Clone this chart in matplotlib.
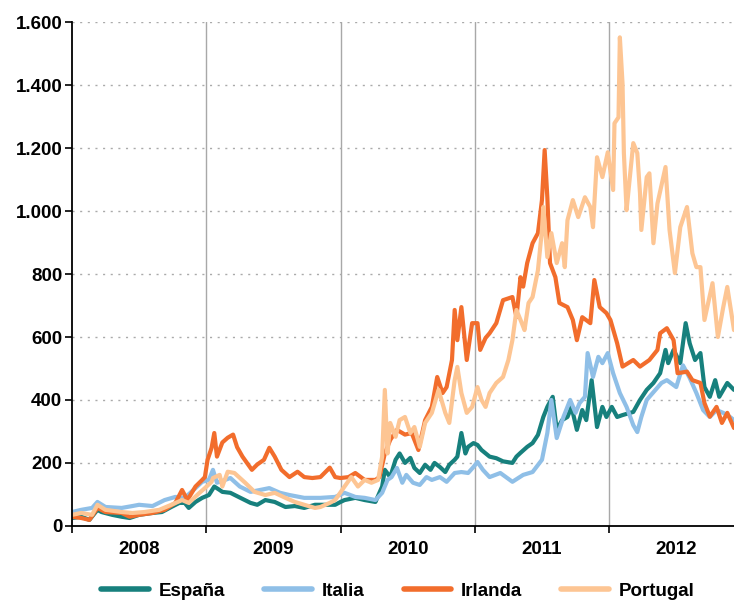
import matplotlib.pyplot as plt
from matplotlib.ticker import FuncFormatter, FixedLocator

plt.rcParams['font.family'] = ['Liberation Sans', 'DejaVu Sans']
plt.rcParams['font.weight'] = 'bold'

# Series: (decimal year, basis points)
espana_t = [2008.00, 2008.07, 2008.13, 2008.19, 2008.22, 2008.30, 2008.37, 2008.43, 2008.50, 2008.60,
            2008.67, 2008.74, 2008.80, 2008.84, 2008.87, 2008.92, 2008.97, 2009.02, 2009.06, 2009.10,
            2009.12, 2009.18, 2009.25, 2009.33, 2009.38, 2009.44, 2009.51, 2009.59, 2009.66, 2009.73,
            2009.81, 2009.88, 2009.96, 2010.00, 2010.03, 2010.11, 2010.18, 2010.26, 2010.31, 2010.33,
            2010.37, 2010.41, 2010.44, 2010.48, 2010.52, 2010.55, 2010.59, 2010.63, 2010.67, 2010.70,
            2010.74, 2010.78, 2010.81, 2010.85, 2010.87, 2010.90, 2010.93, 2010.95, 2010.99, 2011.02,
            2011.05, 2011.11, 2011.16, 2011.21, 2011.28, 2011.31, 2011.34, 2011.39, 2011.43, 2011.47,
            2011.51, 2011.54, 2011.58, 2011.61, 2011.65, 2011.69, 2011.72, 2011.76, 2011.80, 2011.83,
            2011.87, 2011.91, 2011.95, 2011.98, 2012.02, 2012.06, 2012.10, 2012.18, 2012.23, 2012.28,
            2012.33, 2012.38, 2012.42, 2012.44, 2012.48, 2012.53, 2012.57, 2012.60, 2012.64, 2012.68,
            2012.71, 2012.75, 2012.79, 2012.82, 2012.88, 2012.93]
espana_v = [25, 29, 19, 51, 44, 35, 29, 25, 35, 41,
            44, 60, 73, 73, 57, 76, 89, 98, 125, 114,
            108, 105, 90, 73, 67, 82, 76, 60, 63, 57,
            67, 67, 67, 76, 82, 89, 82, 76, 125, 178,
            155, 210, 230, 200, 216, 184, 168, 194, 178, 200,
            187, 171, 194, 210, 220, 295, 230, 251, 263, 257,
            241, 220, 215, 205, 200, 220, 232, 251, 263, 289,
            346, 378, 410, 305, 336, 346, 378, 305, 368, 336,
            463, 314, 378, 346, 378, 346, 352, 362, 400, 432,
            454, 485, 559, 517, 559, 517, 644, 580, 527, 549,
            441, 410, 463, 410, 454, 432]

italia_t = [2008.00, 2008.07, 2008.15, 2008.19, 2008.25, 2008.37, 2008.45, 2008.50, 2008.60, 2008.69,
            2008.77, 2008.84, 2008.92, 2008.97, 2009.02, 2009.05, 2009.08, 2009.18, 2009.25, 2009.33,
            2009.40, 2009.47, 2009.55, 2009.62, 2009.73, 2009.85, 2009.96, 2010.03, 2010.11, 2010.18,
            2010.26, 2010.31, 2010.35, 2010.38, 2010.42, 2010.46, 2010.49, 2010.54, 2010.59, 2010.64,
            2010.68, 2010.74, 2010.79, 2010.85, 2010.90, 2010.95, 2010.99, 2011.02, 2011.06, 2011.11,
            2011.19, 2011.28, 2011.36, 2011.43, 2011.50, 2011.54, 2011.57, 2011.61, 2011.66, 2011.71,
            2011.75, 2011.78, 2011.82, 2011.84, 2011.88, 2011.92, 2011.95, 2011.99, 2012.03, 2012.08,
            2012.13, 2012.18, 2012.21, 2012.24, 2012.28, 2012.30, 2012.39, 2012.43, 2012.50, 2012.55,
            2012.60, 2012.65, 2012.70, 2012.75, 2012.80, 2012.85, 2012.90, 2012.93]
italia_v = [44, 51, 57, 76, 60, 57, 63, 67, 63, 82,
            92, 89, 120, 140, 146, 178, 137, 152, 125, 108,
            114, 120, 105, 98, 89, 89, 92, 105, 92, 89,
            82, 105, 146, 155, 184, 137, 162, 137, 130, 155,
            146, 155, 140, 168, 171, 168, 187, 203, 178, 155,
            168, 140, 162, 171, 210, 295, 400, 279, 346, 400,
            359, 390, 410, 549, 473, 537, 517, 549, 485, 422,
            378, 320, 298, 346, 400, 410, 454, 463, 441, 510,
            470, 422, 368, 346, 368, 359, 346, 336]

irlanda_t = [2008.00, 2008.07, 2008.13, 2008.19, 2008.25, 2008.37, 2008.43, 2008.50, 2008.60, 2008.69,
             2008.77, 2008.82, 2008.86, 2008.92, 2008.97, 2008.99, 2009.01, 2009.04, 2009.06, 2009.08,
             2009.12, 2009.16, 2009.20, 2009.23, 2009.27, 2009.34, 2009.38, 2009.43, 2009.47, 2009.51,
             2009.56, 2009.62, 2009.68, 2009.73, 2009.79, 2009.85, 2009.92, 2009.96, 2010.00, 2010.06,
             2010.11, 2010.18, 2010.26, 2010.29, 2010.33, 2010.37, 2010.42, 2010.48, 2010.53, 2010.58,
             2010.63, 2010.68, 2010.72, 2010.76, 2010.79, 2010.83, 2010.85, 2010.87, 2010.90, 2010.94,
             2010.98, 2011.02, 2011.04, 2011.08, 2011.11, 2011.16, 2011.21, 2011.28, 2011.31, 2011.34,
             2011.36, 2011.39, 2011.43, 2011.47, 2011.50, 2011.52, 2011.54, 2011.56, 2011.60, 2011.63,
             2011.69, 2011.73, 2011.76, 2011.80, 2011.86, 2011.89, 2011.93, 2011.98, 2012.01, 2012.06,
             2012.10, 2012.18, 2012.23, 2012.30, 2012.36, 2012.38, 2012.43, 2012.48, 2012.51, 2012.58,
             2012.62, 2012.68, 2012.71, 2012.75, 2012.80, 2012.84, 2012.88, 2012.93]
irlanda_v = [29, 25, 19, 57, 44, 41, 29, 35, 41, 51,
             73, 114, 82, 125, 146, 155, 210, 248, 295, 220,
             265, 280, 290, 250, 220, 178, 195, 210, 248, 220,
             178, 155, 172, 155, 152, 155, 185, 155, 152, 155,
             168, 146, 146, 155, 230, 273, 305, 290, 295, 241,
             336, 378, 473, 422, 441, 527, 686, 590, 695, 527,
             644, 644, 559, 597, 612, 644, 717, 727, 663, 790,
             760, 835, 898, 930, 1035, 1194, 1044, 835, 790, 708,
             695, 654, 590, 663, 644, 781, 695, 676, 654, 580,
             506, 527, 506, 527, 559, 612, 628, 590, 485, 490,
             463, 454, 390, 347, 378, 327, 359, 311]

portugal_t = [2008.00, 2008.07, 2008.15, 2008.19, 2008.25, 2008.37, 2008.45, 2008.54, 2008.65, 2008.74,
              2008.82, 2008.87, 2008.95, 2008.99, 2009.04, 2009.05, 2009.10, 2009.12, 2009.16, 2009.21,
              2009.29, 2009.36, 2009.44, 2009.51, 2009.59, 2009.66, 2009.73, 2009.81, 2009.85, 2009.92,
              2009.96, 2010.03, 2010.08, 2010.13, 2010.18, 2010.23, 2010.28, 2010.31, 2010.33, 2010.35,
              2010.37, 2010.41, 2010.44, 2010.48, 2010.52, 2010.55, 2010.59, 2010.63, 2010.68, 2010.73,
              2010.78, 2010.81, 2010.85, 2010.87, 2010.90, 2010.94, 2010.98, 2011.02, 2011.05, 2011.08,
              2011.11, 2011.16, 2011.21, 2011.25, 2011.28, 2011.31, 2011.35, 2011.37, 2011.40, 2011.43,
              2011.47, 2011.50, 2011.51, 2011.54, 2011.57, 2011.61, 2011.65, 2011.67, 2011.69, 2011.73,
              2011.77, 2011.82, 2011.86, 2011.88, 2011.91, 2011.95, 2011.99, 2012.03, 2012.04, 2012.07,
              2012.08, 2012.10, 2012.11, 2012.13, 2012.15, 2012.18, 2012.21, 2012.23, 2012.24, 2012.28,
              2012.30, 2012.33, 2012.36, 2012.42, 2012.45, 2012.49, 2012.53, 2012.58, 2012.62, 2012.65,
              2012.68, 2012.71, 2012.77, 2012.81, 2012.85, 2012.88, 2012.93]
portugal_v = [35, 41, 35, 67, 51, 44, 41, 44, 51, 67,
              82, 73, 105, 120, 140, 152, 162, 125, 172, 168,
              137, 108, 98, 105, 89, 76, 67, 57, 60, 73,
              82, 125, 155, 125, 146, 137, 146, 220, 432, 230,
              327, 283, 336, 346, 295, 314, 251, 327, 359, 432,
              359, 327, 463, 505, 422, 359, 378, 441, 400, 378,
              422, 454, 473, 527, 590, 686, 644, 622, 708, 727,
              812, 940, 1013, 854, 930, 835, 898, 822, 971, 1035,
              981, 1044, 1013, 949, 1171, 1108, 1187, 1067, 1279, 1298,
              1552, 1405, 1184, 1003, 1089, 1216, 1184, 1057, 940, 1108,
              1120, 898, 1024, 1140, 940, 803, 949, 1013, 866, 822,
              822, 654, 771, 600, 695, 759, 622]

labels = ['España', 'Italia', 'Irlanda', 'Portugal']
colors = ['#17807d', '#8fbfe7', '#f26d2c', '#fdc593']
year_labels = ['2008', '2009', '2010', '2011', '2012']
yticks = [0, 200, 400, 600, 800, 1000, 1200, 1400, 1600]

fig = plt.figure(figsize=(7.34, 6.01), dpi=100)
ax = fig.add_axes([0.098, 0.125, 0.902, 0.838])

series = [(espana_t, espana_v), (italia_t, italia_v),
          (irlanda_t, irlanda_v), (portugal_t, portugal_v)]
for (t, v), lab, c in zip(series, labels, colors):
    ax.plot(t, v, color=c, lw=3.0, label=lab, solid_joinstyle='round', solid_capstyle='round')

ax.set_xlim(2008.0, 2012.93)
ax.set_ylim(0, 1600)

# year boundaries: gray vertical lines + small ticks below axis
for yr in [2009, 2010, 2011, 2012]:
    ax.axvline(yr, color='#a8a8a8', lw=1.0, zorder=0)
ax.xaxis.set_major_locator(FixedLocator([2008, 2009, 2010, 2011, 2012]))
ax.xaxis.set_minor_locator(FixedLocator([2008.5, 2009.5, 2010.5, 2011.5, 2012.5]))
ax.set_xticklabels([])
ax.set_xticklabels(year_labels, minor=True)
ax.tick_params(axis='x', which='major', length=5, width=1.2, direction='out', color='black')
ax.tick_params(axis='x', which='minor', length=0, pad=11, labelsize=13.5)

ax.set_yticks(yticks)
ax.yaxis.set_major_formatter(FuncFormatter(lambda v, p: f'{int(v):,}'.replace(',', '.')))
ax.tick_params(axis='y', length=5, width=1.2, direction='out', pad=2, labelsize=13.5)
for yv in yticks[1:]:
    ax.axhline(yv, color='#aaaaaa', lw=1.0, ls=(0, (1.5, 4)), zorder=0)

for s in ['top', 'right']:
    ax.spines[s].set_visible(False)
ax.spines['left'].set_linewidth(1.3)
ax.spines['bottom'].set_linewidth(1.3)

leg = fig.legend(loc='center', bbox_to_anchor=(0.542, 0.016), ncol=4, frameon=False,
                 fontsize=13.5, handlelength=2.55, handletextpad=0.5, columnspacing=2.1)
for h in leg.get_lines():
    h.set_linewidth(4)

fig.savefig('out.png', dpi=100)
